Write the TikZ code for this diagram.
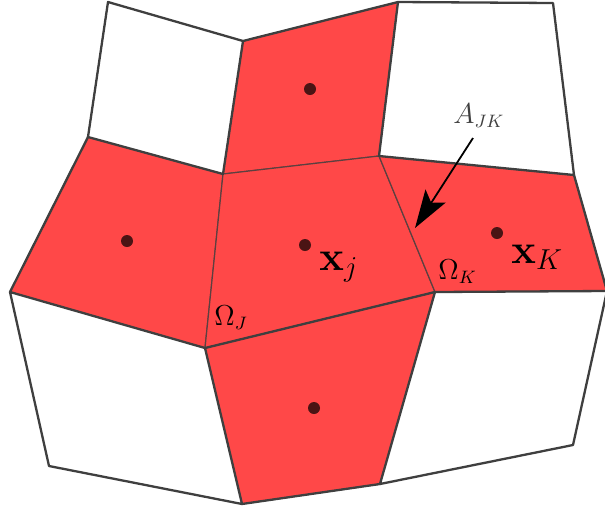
\documentclass[tikz,border=0pt]{standalone}
\usepackage{amsmath,amssymb}
\usepackage{tikz}
\usetikzlibrary{arrows.meta,calc}
\definecolor{cCell}{HTML}{FF4848}
\definecolor{cEdge}{HTML}{3F3F3F}
\definecolor{cDot} {HTML}{4A1414}
\tikzset{
  cell/.style  ={draw=cEdge,line width=1.15pt,line join=round,line cap=round},
  hot/.style   ={draw=cEdge!85!cCell,fill=cCell,line width=0.6pt,line join=round},
  cold/.style  ={cell,fill=white},
  ctr/.style   ={circle,fill=cDot,inner sep=0pt,minimum size=6pt},
  lbl/.style   ={inner sep=0pt,anchor=base west,font=\fontsize{13.5}{16}\selectfont},
  big/.style   ={lbl,font=\fontsize{19.5}{23}\selectfont},
  ptr/.style   ={-{Stealth[length=19pt,width=12pt,inset=4pt]},line width=0.9pt},
}

\begin{document}
\begin{tikzpicture}[x=0.5pt,y=-0.5pt]
\clip (0,0) rectangle (605,510);

% mesh vertices (pixel grid, y down)
\coordinate (A) at (108,2);   \coordinate (B) at (243,41);
\coordinate (C) at (223,174); \coordinate (D) at (88,137);
\coordinate (E) at (10,292);  \coordinate (F) at (205,348);
\coordinate (G) at (379,156); \coordinate (H) at (398,2);
\coordinate (I) at (553,3);   \coordinate (J) at (574,175);
\coordinate (K) at (435,292); \coordinate (R) at (607,291);
\coordinate (S) at (573,445); \coordinate (T) at (380,484);
\coordinate (U) at (242,504); \coordinate (V) at (49,466);

% stencil cells
\filldraw[hot] (B) -- (H) -- (G) -- (C) -- cycle;
\filldraw[hot] (D) -- (C) -- (F) -- (E) -- cycle;
\filldraw[hot] (C) -- (G) -- (K) -- (F) -- cycle;
\filldraw[hot] (G) -- (J) -- (R) -- (K) -- cycle;
\filldraw[hot] (F) -- (K) -- (T) -- (U) -- cycle;

% other cells
\filldraw[cold] (A) -- (B) -- (C) -- (D) -- cycle;
\filldraw[cold] (H) -- (I) -- (J) -- (G) -- cycle;
\filldraw[cold] (E) -- (F) -- (U) -- (V) -- cycle;
\filldraw[cold] (K) -- (R) -- (S) -- (T) -- cycle;

\draw[cell] (B) -- (H);
\draw[cell] (D) -- (E);
\draw[cell] (J) -- (R);
\draw[cell] (T) -- (U);
\draw[cell] (F) -- (K);

\foreach \n/\x/\y in {dt/310/89, dl/127/241, dc/305/245, dr/497/233, db/314/408}{
  \node[ctr] (\n) at (\x,\y) {};
}

\node[big] (xj) at (319,270) {$\mathbf{x}_j$};
\node[big] (xk) at (511,263) {$\mathbf{x}_K$};
\node[lbl] (oj) at (214,325) {$\Omega_J$};
\node[lbl] (ok) at (438,279) {$\Omega_K$};
\node[lbl,text=black!75] (ajk) at (453,123) {$A_{JK}$};

\coordinate (tail) at (473,138);
\coordinate (tip)  at (415,228);
\draw[ptr] (tail) -- (tip);
\end{tikzpicture}
\end{document}
